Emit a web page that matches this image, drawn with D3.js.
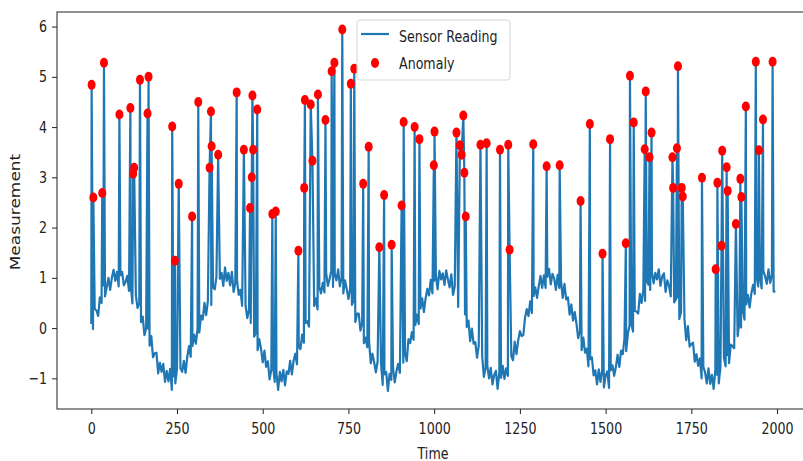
<!DOCTYPE html>
<html>
<head>
<meta charset="utf-8">
<script src="https://cdn.jsdelivr.net/npm/d3@7"></script>
<style>
body { margin: 0; background: #fff; }
svg { display: block; }
text { font-family: "DejaVu Sans", sans-serif; fill: #222; }
</style>
</head>
<body>
<div id="chart"></div>
<script>
// sensor reading, one value every 5 time steps (t = 0, 5, 10 ... 1995)
const readingStep = 5;
const sensorReadings = [
  0.08, -0.02, 0.38, 0.35, 0.24, 0.61, 0.50, 0.85, 0.63, 0.81, 1.00, 0.76, 1.00, 1.16, 0.94, 1.12, 0.83, 1.05, 1.12, 0.85, 0.92,
  1.04, 0.74, 0.86, 0.49, 0.65, 0.65, 0.40, 0.50, 0.12, 0.23, -0.14, 0.00, -0.01, -0.35, -0.16, -0.58, -0.50, -0.49, -0.90, -0.69, -0.87,
  -0.71, -1.07, -0.85, -1.06, -0.81, -1.23, -0.96, -1.10, -0.81, -1.10, -0.80, -0.87, -0.65, -0.89, -0.57, -0.36, -0.57, -0.36, -0.13, -0.31, 0.00,
  -0.09, 0.25, 0.17, 0.50, 0.26, 0.54, 0.68, 0.46, 0.81, 0.77, 1.02, 0.79, 0.98, 1.10, 0.84, 1.21, 0.94, 1.10, 0.85, 1.12, 0.72,
  0.89, 0.96, 0.66, 0.76, 0.44, 0.70, 0.45, 0.20, 0.36, 0.10, 0.24, -0.17, -0.10, -0.44, -0.22, -0.41, -0.68, -0.45, -0.77, -0.66, -1.02,
  -0.83, -0.74, -1.07, -0.89, -1.23, -0.87, -1.06, -0.83, -1.14, -0.86, -0.91, -0.65, -0.92, -0.65, -0.51, -0.72, -0.37, -0.42, -0.13, -0.29, 0.10,
  0.14, 0.03, 0.37, 0.15, 0.44, 0.59, 0.37, 0.82, 0.69, 0.90, 0.71, 1.10, 0.84, 0.98, 1.14, 0.82, 1.08, 0.95, 1.17, 0.83, 1.00,
  0.69, 0.95, 0.78, 0.58, 0.78, 0.46, 0.55, 0.12, 0.29, 0.29, -0.05, 0.11, -0.30, -0.19, -0.38, -0.25, -0.70, -0.51, -0.68, -0.88, -0.67,
  -0.95, -0.71, -1.13, -0.92, -0.87, -1.25, -0.91, -1.03, -0.79, -1.08, -0.86, -0.71, -0.89, -0.53, -0.69, -0.48, -0.66, -0.22, -0.30, -0.08, -0.23,
  0.06, 0.27, 0.08, 0.39, 0.59, 0.32, 0.59, 0.78, 0.65, 0.96, 0.69, 0.94, 1.05, 0.77, 1.14, 0.97, 1.09, 0.86, 1.15, 0.97, 0.81,
  1.07, 0.66, 0.83, 0.73, 0.42, 0.66, 0.36, 0.50, 0.27, 0.02, 0.15, -0.26, -0.01, -0.31, -0.28, -0.59, -0.35, -0.70, -0.56, -0.97, -0.79,
  -0.75, -1.00, -0.79, -1.12, -0.93, -0.85, -1.21, -0.88, -0.99, -0.75, -1.01, -0.80, -0.95, -0.58, -0.56, -0.64, -0.27, -0.52, -0.25, -0.06, -0.16,
  -0.14, 0.21, 0.38, 0.24, 0.53, 0.30, 0.64, 0.81, 0.60, 0.83, 1.04, 0.80, 1.05, 0.80, 1.02, 1.18, 0.87, 1.08, 0.99, 0.76, 1.06,
  0.80, 0.93, 0.60, 0.88, 0.57, 0.61, 0.27, 0.47, 0.15, 0.32, 0.09, -0.20, -0.06, -0.44, -0.19, -0.49, -0.41, -0.76, -0.62, -0.58, -0.94,
  -0.84, -1.12, -0.82, -1.07, -0.83, -1.18, -0.94, -0.86, -1.19, -0.84, -0.74, -0.95, -0.77, -0.53, -0.77, -0.45, -0.52, -0.21, -0.46, -0.11, 0.06,
  0.09, -0.07, 0.34, 0.33, 0.29, 0.68, 0.50, 0.76, 0.54, 0.93, 0.86, 0.76, 1.11, 0.89, 1.10, 0.97, 1.17, 0.84, 1.03, 1.09, 0.72,
  0.95, 0.84, 0.63, 0.85, 0.51, 0.57, 0.61, 0.18, 0.32, 0.13, 0.18, -0.24, 0.04, -0.37, -0.32, -0.29, -0.67, -0.52, -0.75, -0.60, -1.00,
  -0.77, -0.88, -1.10, -0.80, -1.11, -0.93, -1.21, -0.83, -0.93, -1.10, -0.77, -0.93, -0.59, -0.76, -0.54, -0.70, -0.33, -0.36, -0.40, 0.00, -0.16,
  0.12, 0.01, 0.37, 0.17, 0.47, 0.66, 0.41, 0.69, 0.86, 0.68, 1.04, 0.83, 1.02, 0.79, 1.14, 1.03, 0.88, 1.17, 0.90, 1.06, 0.73, 0.72
];

// anomalies: time and value
const anomalyTimes = [
  1, 6, 32, 37, 82, 114, 122, 125, 142, 164, 167, 236, 244, 255, 294, 312, 345, 349, 351, 370,
  424, 445, 463, 468, 470, 472, 484, 528, 538, 604, 621, 623, 640, 645, 661, 683, 701, 709, 732, 757,
  767, 793, 809, 840, 854, 876, 905, 911, 943, 957, 999, 1001, 1065, 1075, 1080, 1085, 1088, 1092, 1135, 1153,
  1192, 1216, 1220, 1289, 1328, 1366, 1427, 1454, 1491, 1513, 1559, 1571, 1582, 1614, 1617, 1628, 1634, 1695, 1697, 1708,
  1711, 1722, 1725, 1781, 1821, 1826, 1838, 1840, 1853, 1856, 1880, 1893, 1896, 1909, 1938, 1947, 1959, 1987
];
const anomalyValues = [
  4.84, 2.60, 2.69, 5.28, 4.25, 4.38, 3.07, 3.19, 4.94, 4.27, 5.00, 4.01, 1.34, 2.87, 2.22, 4.50, 3.19, 4.31, 3.62, 3.45,
  4.69, 3.55, 2.39, 3.00, 4.63, 3.55, 4.35, 2.27, 2.32, 1.54, 2.79, 4.54, 4.45, 3.33, 4.65, 4.14, 5.11, 5.28, 5.94, 4.86,
  5.16, 2.87, 3.61, 1.61, 2.65, 1.66, 2.44, 4.10, 4.00, 3.76, 3.24, 3.91, 3.89, 3.64, 3.45, 4.23, 3.09, 2.22, 3.65, 3.68,
  3.55, 3.65, 1.56, 3.66, 3.22, 3.24, 2.53, 4.06, 1.48, 3.76, 1.69, 5.02, 4.09, 3.56, 4.71, 3.40, 3.89, 3.40, 2.79, 3.58,
  5.21, 2.79, 2.62, 2.99, 1.17, 2.89, 1.64, 3.53, 3.20, 2.73, 2.07, 2.97, 2.61, 4.41, 5.30, 3.54, 4.15, 5.30
];

const xTicks = [0, 250, 500, 750, 1000, 1250, 1500, 1750, 2000];
const yTicks = [-1, 0, 1, 2, 3, 4, 5, 6];

const width = 803;
const height = 461;
const marginLeft = 57;
const marginTop = 12;
const plotBottom = 409;
const plotRight = 811;   // right frame falls just outside the picture

const anomalies = anomalyTimes.map((t, i) => ({t: t, v: anomalyValues[i]}));
const anomalySet = new Set(anomalyTimes);
const lineData = sensorReadings
  .map((v, i) => ({t: i * readingStep, v: v}))
  .filter(d => !anomalySet.has(d.t))
  .concat(anomalies)
  .sort((a, b) => a.t - b.t);

const x = d3.scaleLinear().domain([-100, 2099]).range([marginLeft, plotRight]);
const y = d3.scaleLinear().domain([-1.61, 6.29]).range([plotBottom, marginTop]);

const svg = d3.select("#chart").append("svg")
    .attr("width", width)
    .attr("height", height)
    .attr("viewBox", [0, 0, width, height]);

// the picture is squashed sideways, so text is too
const squeeze = 0.79;
const fontSize = 16;

// axes
const xAxis = svg.append("g")
    .attr("transform", `translate(0,${plotBottom})`)
    .call(d3.axisBottom(x).tickValues(xTicks).tickSize(5).tickSizeOuter(0).tickPadding(9).tickFormat(d3.format("d")));
xAxis.select(".domain").remove();
xAxis.selectAll("line").attr("stroke", "#222");
xAxis.selectAll("text")
    .attr("font-size", fontSize)
    .attr("font-family", "DejaVu Sans")
    .attr("fill", "#222")
    .attr("transform", `scale(${squeeze},1)`);

const yAxis = svg.append("g")
    .attr("transform", `translate(${marginLeft},0)`)
    .call(d3.axisLeft(y).tickValues(yTicks).tickSize(5).tickSizeOuter(0).tickPadding(7.7).tickFormat(d3.format("d")));
yAxis.select(".domain").remove();
yAxis.selectAll("line").attr("stroke", "#222");
yAxis.selectAll("text")
    .attr("font-size", fontSize)
    .attr("font-family", "DejaVu Sans")
    .attr("fill", "#222")
    .attr("transform", `scale(${squeeze},1)`);

// sensor line
svg.append("path")
    .datum(lineData)
    .attr("fill", "none")
    .attr("stroke", "#1f77b4")
    .attr("stroke-width", 2.2)
    .attr("stroke-linejoin", "round")
    .attr("d", d3.line().x(d => x(d.t)).y(d => y(d.v)));

// anomaly markers
svg.append("g")
  .selectAll("ellipse")
  .data(anomalies)
  .join("ellipse")
    .attr("cx", d => x(d.t))
    .attr("cy", d => y(d.v))
    .attr("rx", 4)
    .attr("ry", 5)
    .attr("fill", "red");

// frame
svg.append("rect")
    .attr("x", marginLeft)
    .attr("y", marginTop)
    .attr("width", plotRight - marginLeft)
    .attr("height", plotBottom - marginTop)
    .attr("fill", "none")
    .attr("stroke", "#222")
    .attr("stroke-width", 1);

// axis labels
svg.append("text")
    .attr("transform", `translate(433,459) scale(${squeeze},1)`)
    .attr("text-anchor", "middle")
    .attr("font-size", fontSize)
    .text("Time");

svg.append("text")
    .attr("transform", `translate(20,212) rotate(-90) scale(1,${squeeze})`)
    .attr("text-anchor", "middle")
    .attr("font-size", 17)
    .text("Measurement");

// legend
const legend = svg.append("g");
legend.append("rect")
    .attr("x", 357).attr("y", 20)
    .attr("width", 153).attr("height", 60)
    .attr("rx", 3)
    .attr("fill", "white").attr("fill-opacity", 0.8)
    .attr("stroke", "#d5d5d5");
legend.append("line")
    .attr("x1", 361).attr("x2", 389)
    .attr("y1", 34).attr("y2", 34)
    .attr("stroke", "#1f77b4").attr("stroke-width", 2.2);
legend.append("ellipse")
    .attr("cx", 375).attr("cy", 63)
    .attr("rx", 4).attr("ry", 5)
    .attr("fill", "red");
legend.append("text")
    .attr("transform", `translate(399,42) scale(${squeeze},1)`)
    .attr("font-size", fontSize)
    .text("Sensor Reading");
legend.append("text")
    .attr("transform", `translate(399,69) scale(${squeeze},1)`)
    .attr("font-size", fontSize)
    .text("Anomaly");
</script>
</body>
</html>
